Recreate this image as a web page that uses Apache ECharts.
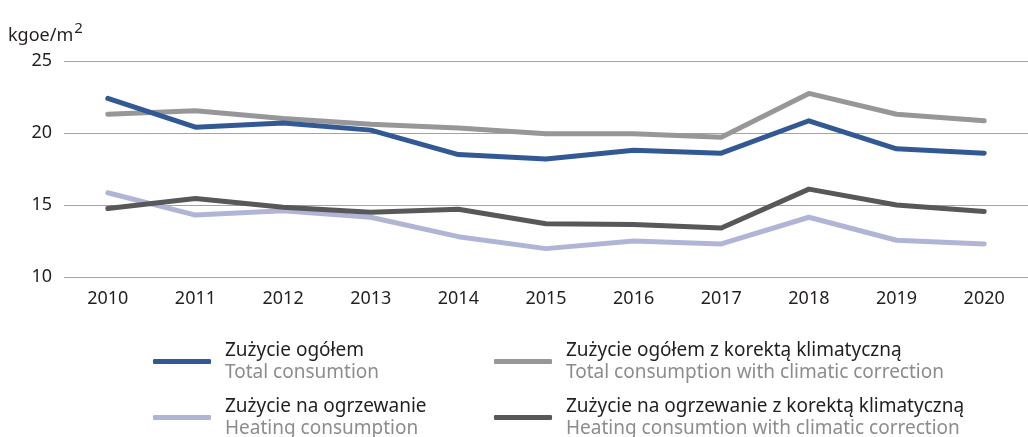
<!DOCTYPE html>
<html>
<head>
<meta charset="utf-8">
<script src="https://cdn.jsdelivr.net/npm/echarts@6/dist/echarts.min.js"></script>
<style>
  html, body { margin: 0; padding: 0; background: #fff; }
  #chart { width: 1028px; height: 437px; }
</style>
</head>
<body>
<div id="chart"></div>
<script>
// lata
const years = ['2010', '2011', '2012', '2013', '2014', '2015', '2016', '2017', '2018', '2019', '2020'];

// kgoe/m2
const totalUse = [22.4, 20.4, 20.7, 20.2, 18.5, 18.2, 18.8, 18.6, 20.85, 18.9, 18.6];
const totalCorrected = [21.3, 21.55, 21.0, 20.6, 20.35, 19.95, 19.95, 19.7, 22.75, 21.3, 20.85];
const heatingUse = [15.85, 14.3, 14.6, 14.15, 12.8, 11.97, 12.5, 12.3, 14.15, 12.55, 12.3];
const heatingCorrected = [14.75, 15.45, 14.85, 14.5, 14.7, 13.7, 13.65, 13.4, 16.1, 15.0, 14.55];

const yTicks = [10, 15, 20, 25];

const namesPl = [
  'Zużycie ogółem',
  'Zużycie ogółem z korektą klimatyczną',
  'Zużycie na ogrzewanie',
  'Zużycie na ogrzewanie z korektą klimatyczną'
];
const namesEn = [
  'Total consumtion',
  'Total consumption with climatic correction',
  'Heating consumption',
  'Heating consumtion with climatic correction'
];
const colors = ['#325993', '#97979a', '#b0b5d5', '#58585a'];

const font = '"Noto Sans", sans-serif';
const chart = echarts.init(document.getElementById('chart'));

function legendLabel(name) {
  const i = namesPl.indexOf(name);
  return '{a|' + name + '}\n{b|' + namesEn[i] + '}';
}
const legendRich = {
  a: { fontSize: 19, color: '#231f20', fontFamily: font, lineHeight: 22 },
  b: { fontSize: 19, color: '#8c8c8c', fontFamily: font, lineHeight: 22 }
};
function makeLegend(left, items) {
  return {
    orient: 'vertical',
    left: left,
    top: 341,
    height: 120,
    padding: 0,
    itemWidth: 58,
    itemHeight: 5,
    itemGap: 15,
    icon: 'roundRect',
    data: items,
    formatter: legendLabel,
    textStyle: { rich: legendRich, padding: [0, 0, 0, 9] }
  };
}

const seriesData = [totalUse, totalCorrected, heatingUse, heatingCorrected];

const option = {
  animation: false,
  title: {
    text: 'kgoe/m{s|2}',
    left: 8,
    top: 21,
    padding: 0,
    textStyle: {
      fontSize: 18, fontWeight: 'normal', color: '#231f20', fontFamily: font,
      rich: {
        s: { fontSize: 15, verticalAlign: 'top', padding: [0, 0, 14, 1], color: '#231f20', fontFamily: font }
      }
    }
  },
  grid: { left: 64, right: -4, top: 61, bottom: 160 },
  legend: [
    makeLegend(153, [namesPl[0], namesPl[2]]),
    makeLegend(494, [namesPl[1], namesPl[3]])
  ],
  xAxis: {
    type: 'category',
    data: years,
    boundaryGap: true,
    axisLine: { show: false },
    axisTick: { show: false },
    axisLabel: { margin: 13, fontSize: 18, color: '#231f20', fontFamily: font }
  },
  yAxis: {
    type: 'value',
    min: yTicks[0],
    max: yTicks[yTicks.length - 1],
    interval: 5,
    axisLine: { show: false },
    axisTick: { show: false },
    axisLabel: { margin: 12, fontSize: 18, color: '#231f20', fontFamily: font },
    splitLine: { lineStyle: { color: '#a3a3a3', width: 1 } }
  },
  series: seriesData.map((d, i) => ({
    name: namesPl[i],
    type: 'line',
    data: d,
    symbol: 'none',
    z: [4, 2, 1, 3][i],
    lineStyle: { color: colors[i], width: 5, cap: 'round', join: 'round' },
    itemStyle: { color: colors[i] }
  }))
};

chart.setOption(option);
</script>
</body>
</html>
